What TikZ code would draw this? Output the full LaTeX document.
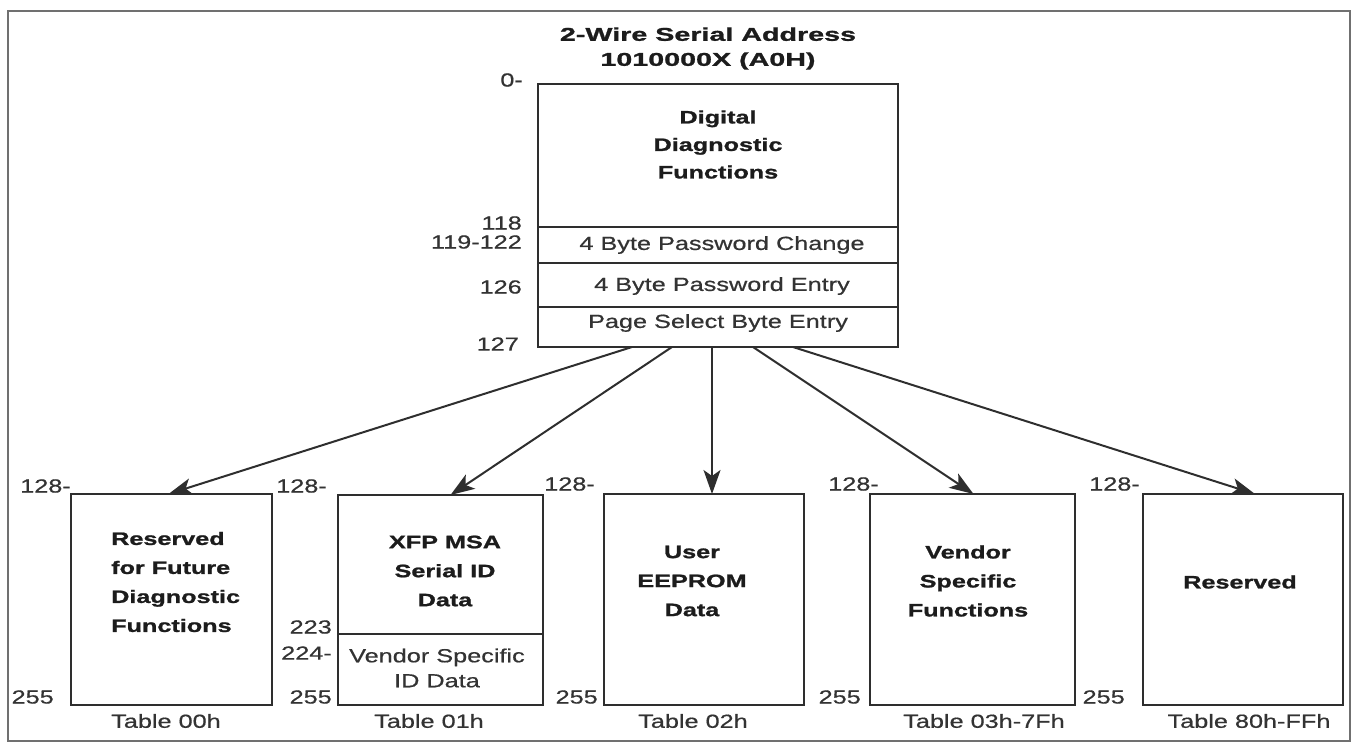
\documentclass[tikz,border=0pt]{standalone}
\usepackage{fontspec}
\setmainfont{Liberation Sans}
\newfontfamily\titlefont{Liberation Sans}[FakeStretch=1.55,FakeBold=1.2]
\newfontfamily\boldfont{Liberation Sans}[FakeStretch=1.4,FakeBold=1.2]
\newfontfamily\regfont{Liberation Sans}[FakeStretch=1.33,FakeBold=0.6]
\usetikzlibrary{arrows.meta}
\definecolor{ink}{HTML}{1C1C1C}
\definecolor{soft}{HTML}{333333}
\definecolor{edge}{HTML}{2E2E2E}
\definecolor{frame}{HTML}{707070}
\begin{document}
\begin{tikzpicture}[x=1pt,y=-1pt,
  box/.style={draw=edge, line width=1.8pt, fill=white, inner sep=0pt, outer sep=0pt},
  ttl/.style={text=ink, font=\titlefont\bfseries\fontsize{18.5}{25}\selectfont, align=center, inner sep=0pt},
  btxt/.style={text=ink, font=\boldfont\bfseries\fontsize{18}{29}\selectfont, align=center, inner sep=0pt},
  ttxt/.style={text=ink, font=\boldfont\bfseries\fontsize{18}{27.5}\selectfont, align=center, inner sep=0pt},
  rtxt/.style={text=soft, font=\regfont\fontsize{19}{25}\selectfont, align=center, inner sep=0pt},
  num/.style={text=soft, font=\regfont\fontsize{19}{22}\selectfont, inner sep=0pt, anchor=east},
  arr/.style={draw=edge, line width=2pt, -{Stealth[length=24pt,width=17pt,inset=6pt]}}
]
\useasboundingbox (0,0) rectangle (1359,745);
\draw[frame, line width=2.5pt] (8,11) rectangle (1350,741);

% title
\node[ttl] (title) at (708,48.5) {2-Wire Serial Address\\1010000X (A0H)};

% top memory map (A0h)
\node[box, minimum width=360pt, minimum height=143pt] (dd)  at (718,155.5) {};
\node[box, minimum width=360pt, minimum height=36pt]  (pwc) at (718,245) {};
\node[box, minimum width=360pt, minimum height=44pt]  (pwe) at (718,285) {};
\node[box, minimum width=360pt, minimum height=40pt]  (psb) at (718,327) {};
\node[ttxt] (ddt) at (718,144.5) {Digital\\Diagnostic\\Functions};
\node[rtxt] (pwct) at (722,245) {4 Byte Password Change};
\node[rtxt] (pwet) at (722,286) {4 Byte Password Entry};
\node[rtxt] (psbt) at (718,323) {Page Select Byte Entry};

\node[num] (n0)   at (523,80)  {0-};
\node[num] (n118) at (522,223) {118};
\node[num] (n119) at (522,242) {119-122};
\node[num] (n126) at (522,287) {126};
\node[num] (n127) at (519,344) {127};

% bottom tables
\node[box, minimum width=201pt, minimum height=211pt] (t1) at (171.5,599.5) {};
\node[box, minimum width=205pt, minimum height=139pt] (t2a) at (440.5,564.5) {};
\node[box, minimum width=205pt, minimum height=71pt]  (t2b) at (440.5,669.5) {};
\node[box, minimum width=200pt, minimum height=211pt] (t3) at (704,599.5) {};
\node[box, minimum width=205pt, minimum height=211pt] (t4) at (972.5,599.5) {};
\node[box, minimum width=200pt, minimum height=211pt] (t5) at (1243,599.5) {};

\node[btxt, align=left, anchor=west] (t1t) at (111,582) {Reserved\\for Future\\Diagnostic\\Functions};
\node[btxt] (t2t) at (445,571) {XFP MSA\\Serial ID\\Data};
\node[rtxt] (t2bt) at (437,668) {Vendor Specific\\ID Data};
\node[btxt] (t3t) at (692,581) {User\\EEPROM\\Data};
\node[btxt] (t4t) at (968,581) {Vendor\\Specific\\Functions};
\node[btxt] (t5t) at (1240,582) {Reserved};

% address labels
\node[num] (a1) at (71,486)  {128-};
\node[num] (b1) at (54,697)  {255};
\node[num] (a2) at (327,486) {128-};
\node[num] (c2) at (332,627) {223};
\node[num] (d2) at (332,653) {224-};
\node[num] (b2) at (332,697) {255};
\node[num] (a3) at (595,484) {128-};
\node[num] (b3) at (598,697) {255};
\node[num] (a4) at (879,484) {128-};
\node[num] (b4) at (861,697) {255};
\node[num] (a5) at (1140,484) {128-};
\node[num] (b5) at (1125,697) {255};

% table names
\node[rtxt] (l1) at (166,721)  {Table 00h};
\node[rtxt] (l2) at (429,721)  {Table 01h};
\node[rtxt] (l3) at (693,721)  {Table 02h};
\node[rtxt] (l4) at (984,721)  {Table 03h-7Fh};
\node[rtxt] (l5) at (1249,721) {Table 80h-FFh};

% connectors
\draw[arr] ([xshift=-86pt]psb.south) -- ([xshift=-3pt]t1.north);
\draw[arr] ([xshift=-46pt]psb.south) -- ([xshift=10pt]t2a.north);
\draw[arr] ([xshift=-6pt]psb.south)  -- ([xshift=8pt]t3.north);
\draw[arr] ([xshift=35pt]psb.south)  -- ([xshift=1pt]t4.north);
\draw[arr] ([xshift=75pt]psb.south)  -- ([xshift=12pt]t5.north);
\end{tikzpicture}
\end{document}
